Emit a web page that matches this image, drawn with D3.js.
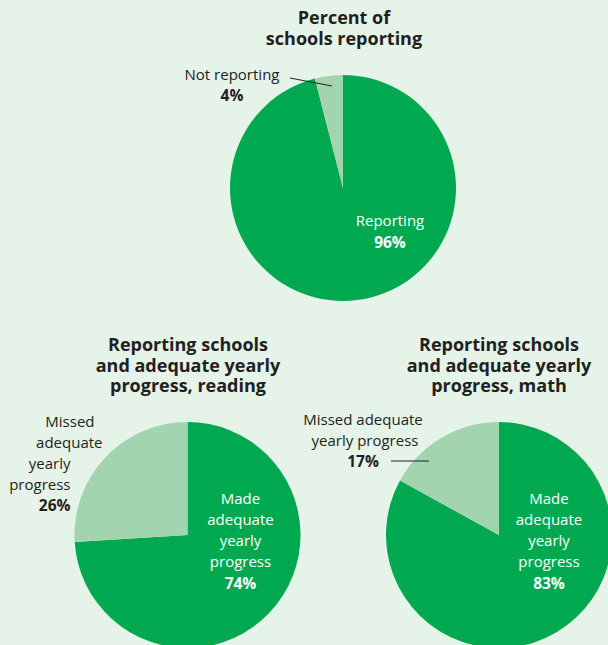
<!DOCTYPE html>
<html>
<head>
<meta charset="utf-8">
<script src="https://cdn.jsdelivr.net/npm/d3@7"></script>
<style>
  body { margin: 0; background: #e5f3e9; }
  svg { display: block; font-family: "Open Sans", "Noto Sans", sans-serif; }
  .title { font-weight: bold; font-size: 18px; fill: #231f20; }
  .lbl { font-size: 15px; fill: #231f20; }
  .lbl.in { fill: #ffffff; }
  .pct { font-weight: bold; font-size: 15.5px; }
</style>
</head>
<body>
<svg id="chart"></svg>
<script>
// Chart data
const reportingLabels = ['Reporting', 'Not reporting'];
const reportingValues = [96, 4];

const readingLabels = ['Made adequate yearly progress', 'Missed adequate yearly progress'];
const readingValues = [74, 26];

const mathLabels = ['Made adequate yearly progress', 'Missed adequate yearly progress'];
const mathValues = [83, 17];

const titles = [
  ['Percent of', 'schools reporting'],
  ['Reporting schools', 'and adequate yearly', 'progress, reading'],
  ['Reporting schools', 'and adequate yearly', 'progress, math'],
];

// Dimensions
const WIDTH = 608;
const HEIGHT = 645;
const RADIUS = 113;
const LINE_H = 21;
const TITLE_LINE_H = 20.5;
const DARK_GREEN = '#00a94f';
const LIGHT_GREEN = '#a3d4b0';

const svg = d3.select('#chart')
  .attr('width', WIDTH)
  .attr('height', HEIGHT);

svg.append('rect')
  .attr('width', WIDTH)
  .attr('height', HEIGHT)
  .attr('fill', '#e5f3e9');

const pie = d3.pie().sort(null).value(d => d);
const arc = d3.arc().innerRadius(0).outerRadius(RADIUS);
const colour = d3.scaleOrdinal().domain([0, 1]).range([DARK_GREEN, LIGHT_GREEN]);

// Label layout, relative to each pie centre
const charts = [
  {
    cx: 343, cy: 188, titleY: 24, titleX: 344,
    values: reportingValues, labels: reportingLabels,
    texts: [
      { x: 47, y: 38, anchor: 'middle', inside: true, lines: [[0, 'Reporting']] },
      { x: -111, y: -108, anchor: 'middle', inside: false, lines: [[0, 'Not reporting']] },
    ],
    leader: [[-53, -110], [-11, -102]],
  },
  {
    cx: 187.5, cy: 535, titleY: 351, titleX: 188,
    values: readingValues, labels: readingLabels,
    texts: [
      { x: 53, y: -31, anchor: 'middle', inside: true,
        lines: [[0, 'Made'], [0, 'adequate'], [0, 'yearly'], [0, 'progress']] },
      { x: -93, y: -108, anchor: 'end', inside: false,
        lines: [[0, 'Missed'], [8, 'adequate'], [-24, 'yearly'], [-24, 'progress']] },
    ],
    pctShift: [0, -24],
  },
  {
    cx: 499, cy: 535, titleY: 351, titleX: 499,
    values: mathValues, labels: mathLabels,
    texts: [
      { x: 50, y: -31, anchor: 'middle', inside: true,
        lines: [[0, 'Made'], [0, 'adequate'], [0, 'yearly'], [0, 'progress']] },
      { x: -136, y: -110, anchor: 'middle', inside: false,
        lines: [[0, 'Missed adequate'], [2, 'yearly progress']] },
    ],
    leader: [[-108, -74], [-70, -74]],
  },
];

charts.forEach((chart, c) => {
  const g = svg.append('g').attr('transform', `translate(${chart.cx}, ${chart.cy})`);

  // Slices
  g.selectAll('path')
    .data(pie(chart.values))
    .enter()
    .append('path')
    .attr('d', arc)
    .attr('fill', (d, i) => colour(i));

  // Title
  svg.append('text')
    .attr('class', 'title')
    .attr('text-anchor', 'middle')
    .selectAll('tspan')
    .data(titles[c])
    .enter()
    .append('tspan')
    .attr('x', chart.titleX)
    .attr('y', (d, i) => chart.titleY + i * TITLE_LINE_H)
    .text(d => d);

  // Slice labels with percentages
  chart.texts.forEach((t, i) => {
    const text = g.append('text')
      .attr('class', t.inside ? 'lbl in' : 'lbl')
      .attr('text-anchor', t.anchor);

    t.lines.forEach(([dx, line], j) => {
      text.append('tspan')
        .attr('x', t.x + dx)
        .attr('y', t.y + j * LINE_H)
        .text(line);
    });

    const pctX = t.anchor === 'end' ? t.x + t.lines[t.lines.length - 1][0] : t.x;
    text.append('tspan')
      .attr('class', 'pct')
      .attr('x', pctX)
      .attr('y', t.y + t.lines.length * LINE_H + (t.inside ? 0.5 : 0))
      .text(`${chart.values[i]}%`);
  });

  if (chart.leader) {
    g.append('line')
      .attr('x1', chart.leader[0][0])
      .attr('y1', chart.leader[0][1])
      .attr('x2', chart.leader[1][0])
      .attr('y2', chart.leader[1][1])
      .attr('stroke', '#231f20')
      .attr('stroke-width', 1);
  }
});
</script>
</body>
</html>
